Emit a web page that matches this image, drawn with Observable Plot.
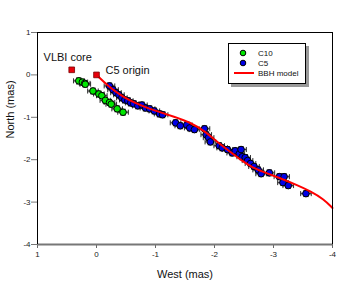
<!DOCTYPE html>
<html>
<head>
<meta charset="utf-8">
<script src="https://cdn.jsdelivr.net/npm/d3@7"></script>
<script src="https://cdn.jsdelivr.net/npm/@observablehq/plot@0.6"></script>
<style>
  html, body { margin: 0; padding: 0; background: #fff; }
  #wrap { position: relative; width: 350px; height: 284px; font-family: "Liberation Sans", Arial, sans-serif; }
  #legend { position: absolute; left: 228px; top: 43px; }
</style>
</head>
<body>
<div id="wrap"></div>
<script>
// C10 component (green)
const westC10  = [0.30, 0.24, 0.20, 0.19, 0.06, -0.04, -0.09, -0.15, -0.22, -0.25, -0.35, -0.45];
const northC10 = [-0.14, -0.17, -0.20, -0.22, -0.38, -0.45, -0.49, -0.60, -0.65, -0.69, -0.80, -0.88];

// C5 component (blue)
const westC5  = [-0.22, -0.28, -0.33, -0.38, -0.43, -0.48, -0.53, -0.58, -0.63, -0.70, -0.77, -0.83, -0.90, -0.98, -1.07, -1.12,
                 -1.34, -1.42, -1.53, -1.58, -1.66, -1.83, -1.86, -1.90, -1.93, -2.08, -2.13, -2.22, -2.30, -2.35, -2.42, -2.45,
                 -2.47, -2.52, -2.56, -2.61, -2.67, -2.74, -2.79, -2.93, -3.10, -3.18, -3.16, -3.25, -3.55];
const northC5 = [-0.26, -0.35, -0.42, -0.47, -0.54, -0.59, -0.61, -0.66, -0.68, -0.73, -0.71, -0.78, -0.80, -0.85, -0.92, -0.94,
                 -1.13, -1.20, -1.18, -1.25, -1.29, -1.27, -1.41, -1.48, -1.58, -1.67, -1.72, -1.76, -1.84, -1.79, -1.86, -1.76,
                 -1.93, -1.95, -2.02, -2.09, -2.16, -2.24, -2.33, -2.31, -2.40, -2.40, -2.54, -2.61, -2.80];
const errWest = 0.09;
const errNorth = 0.07;

// BBH model curve (red)
const modelWest  = [0, -0.20, -0.45, -0.68, -0.90, -1.10, -1.30, -1.58, -1.86, -2.05, -2.31, -2.48, -2.65, -2.87, -3.10, -3.40, -3.62, -3.85, -4.0];
const modelNorth = [0, -0.27, -0.52, -0.68, -0.80, -0.89, -0.98, -1.11, -1.35, -1.59, -1.86, -2.04, -2.19, -2.31, -2.43, -2.60, -2.74, -2.93, -3.14];

// Annotated reference positions
const refLabels = ["VLBI core", "C5 origin"];
const refWest   = [0.42, 0];
const refNorth  = [0.12, 0];

const xTicks = [1, 0, -1, -2, -3, -4];
const yTicks = [1, 0, -1, -2, -3, -4];

const c10 = westC10.map((w, i) => ({west: w, north: northC10[i]}));
const c5  = westC5.map((w, i) => ({west: w, north: northC5[i]}));
const model = modelWest.map((w, i) => ({west: w, north: modelNorth[i]}));
const refs = refLabels.map((l, i) => ({label: l, west: refWest[i], north: refNorth[i]}));

function errorMarks(data) {
  const cw = 0.045, cn = 0.06;
  return [
    Plot.link(data, {x1: d => d.west + errWest, x2: d => d.west - errWest, y1: "north", y2: "north", stroke: "#bbb", strokeWidth: 3}),
    Plot.link(data, {x1: "west", x2: "west", y1: d => d.north + errNorth, y2: d => d.north - errNorth, stroke: "#bbb", strokeWidth: 3}),
    Plot.link(data, {x1: d => d.west + errWest, x2: d => d.west - errWest, y1: "north", y2: "north", stroke: "#333", strokeWidth: 1}),
    Plot.link(data, {x1: "west", x2: "west", y1: d => d.north + errNorth, y2: d => d.north - errNorth, stroke: "#333", strokeWidth: 1}),
    Plot.link(data, {x1: d => d.west + errWest, x2: d => d.west + errWest, y1: d => d.north - cn, y2: d => d.north + cn, stroke: "#333", strokeWidth: 1}),
    Plot.link(data, {x1: d => d.west - errWest, x2: d => d.west - errWest, y1: d => d.north - cn, y2: d => d.north + cn, stroke: "#333", strokeWidth: 1}),
    Plot.link(data, {x1: d => d.west - cw, x2: d => d.west + cw, y1: d => d.north + errNorth, y2: d => d.north + errNorth, stroke: "#333", strokeWidth: 1}),
    Plot.link(data, {x1: d => d.west - cw, x2: d => d.west + cw, y1: d => d.north - errNorth, y2: d => d.north - errNorth, stroke: "#333", strokeWidth: 1})
  ];
}

const chart = Plot.plot({
  width: 350,
  height: 284,
  marginLeft: 37,
  marginRight: 18,
  marginTop: 32,
  marginBottom: 40,
  style: {fontFamily: "Liberation Sans, Arial, sans-serif", fontSize: "8px", color: "#222", background: "#fff"},
  x: {domain: [1, -4], ticks: xTicks, label: null},
  y: {domain: [-4, 1], ticks: yTicks, label: null},
  marks: [
    Plot.axisX({ticks: xTicks, tickSize: 4, tickPadding: 3, stroke: "#666", label: null, tickFormat: d => String(d)}),
    Plot.axisY({ticks: yTicks, tickSize: 6, tickPadding: 1, stroke: "#777", label: null, tickFormat: d => String(d)}),
    ...errorMarks(c10),
    ...errorMarks(c5),
    Plot.dot(c10, {x: "west", y: "north", r: 3.3, fill: "#00e600", stroke: "#000", strokeWidth: 1}),
    Plot.dot(c5, {x: "west", y: "north", r: 3.3, fill: "#0000e6", stroke: "#000", strokeWidth: 1}),
    Plot.line(model, {x: "west", y: "north", stroke: "#ff0000", strokeWidth: 2, curve: "basis"}),
    Plot.dot(refs, {x: "west", y: "north", symbol: "square", r: 3.2, fill: "#e8000b", stroke: "#700", strokeWidth: 0.8}),
    Plot.text(refs.slice(0, 1), {x: "west", y: "north", text: "label", dx: -4, dy: -12, fontSize: 11, fill: "#111"}),
    Plot.text(refs.slice(1), {x: "west", y: "north", text: "label", dx: 9, dy: -4, textAnchor: "start", fontSize: 11, fill: "#111"}),
    Plot.ruleY([-4], {stroke: "#777", strokeWidth: 2}),
    Plot.ruleX([1], {stroke: "#000", strokeWidth: 1}),
    Plot.ruleX([-4], {stroke: "#000", strokeWidth: 1}),
    Plot.ruleY([1], {stroke: "#000", strokeWidth: 1}),
    Plot.text(["West (mas)"], {frameAnchor: "bottom", dy: 33, fontSize: 11, fill: "#111"}),
    Plot.text(["North (mas)"], {frameAnchor: "left", dx: -27, rotate: -90, fontSize: 11, fill: "#111"})
  ]
});

const wrap = document.getElementById("wrap");
wrap.appendChild(chart);

// Legend
const legend = document.createElement("div");
legend.id = "legend";
legend.innerHTML = `
<svg width="82" height="46" style="font-family: 'Liberation Sans', Arial, sans-serif; font-size: 8px;">
  <rect x="3" y="3" width="78" height="41" fill="#999"/>
  <rect x="0.5" y="0.5" width="77" height="40" fill="#fff" stroke="#000" stroke-width="1"/>
  <circle cx="15" cy="10" r="2.8" fill="#00e600" stroke="#000" stroke-width="1"/>
  <text x="30" y="13" fill="#111">C10</text>
  <circle cx="15" cy="20" r="2.8" fill="#0000e6" stroke="#000" stroke-width="1"/>
  <text x="30" y="23" fill="#111">C5</text>
  <line x1="6" y1="30" x2="26" y2="30" stroke="#ff0000" stroke-width="2"/>
  <text x="30" y="33" fill="#111">BBH model</text>
</svg>`;
wrap.appendChild(legend);
</script>
</body>
</html>
